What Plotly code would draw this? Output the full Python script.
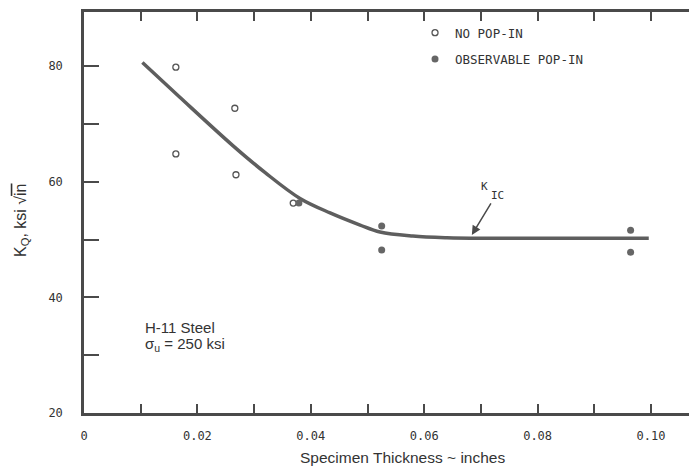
import plotly.graph_objects as go

# ---- data ----
no_popin_x = [0.0162, 0.0162, 0.0266, 0.0268, 0.0369]
no_popin_y = [79.8, 64.8, 72.7, 61.2, 56.3]

popin_x = [0.0379, 0.0525, 0.0525, 0.0964, 0.0964]
popin_y = [56.3, 52.35, 48.2, 51.6, 47.8]

curve_x = [0.0103, 0.0169, 0.0263, 0.0319, 0.0381, 0.0434, 0.0487, 0.0522, 0.0580, 0.0640, 0.0700, 0.0996]
curve_y = [80.6, 74.6, 66.2, 61.6, 57.1, 54.6, 52.5, 51.3, 50.6, 50.3, 50.2, 50.2]

x_tickvals = [0.00, 0.01, 0.02, 0.03, 0.04, 0.05, 0.06, 0.07, 0.08, 0.09, 0.10]
x_ticktext = ["0", "", "0.02", "", "0.04", "", "0.06", "", "0.08", "", "0.10"]
y_tickvals = [20, 30, 40, 50, 60, 70, 80]
y_ticktext = ["20", "", "40", "", "60", "", "80"]

kic_x = 0.0684
kic_y = 50.8

X_MAX = 0.10811
Y_MIN, Y_MAX = 20, 89.34

INK = "#4a4a4a"
MONO = "DejaVu Sans Mono"
SANS = "Liberation Sans"

fig = go.Figure()

fig.add_trace(go.Scatter(
    x=curve_x, y=curve_y, mode="lines",
    line=dict(color="#5e5e5e", width=3.5, shape="spline", smoothing=1.0),
    showlegend=False, hoverinfo="skip"))

fig.add_trace(go.Scatter(
    x=no_popin_x, y=no_popin_y, mode="markers", name="NO POP-IN",
    legendgroup="a",
    marker=dict(symbol="circle-open", size=6, color="#555555", line=dict(width=1.3, color="#555555"))))

fig.add_trace(go.Scatter(
    x=popin_x, y=popin_y, mode="markers", name="OBSERVABLE POP-IN",
    legendgroup="b", yaxis="y2",
    marker=dict(symbol="circle", size=7, color="#666666")))

axis_common = dict(showgrid=False, zeroline=False, linecolor=INK, tickcolor=INK)

fig.update_layout(
    width=689, height=462,
    margin=dict(l=76, r=0, t=4, b=57),
    paper_bgcolor="white", plot_bgcolor="white",
    xaxis=dict(range=[0, X_MAX], showline=True, linewidth=2.5, mirror="ticks",
               ticks="inside", ticklen=9, tickwidth=1.5,
               tickvals=x_tickvals, ticktext=x_ticktext,
               tickfont=dict(family=MONO, size=12, color="#333333"), ticklabelstandoff=10,
               **axis_common),
    yaxis=dict(range=[Y_MIN, Y_MAX], showline=True, linewidth=2.5, ticks="inside", ticklen=15, tickwidth=1.5,
               tickvals=y_tickvals, ticktext=y_ticktext,
               tickfont=dict(family=MONO, size=12, color="#333333"), ticklabelstandoff=16,
               **axis_common),
    yaxis2=dict(range=[Y_MIN, Y_MAX], overlaying="y", side="right", anchor="x", showline=False,
                ticks="inside", ticklen=5, tickwidth=1.5, tickvals=y_tickvals, showticklabels=False,
                **axis_common),
    legend=dict(x=0.5400, y=0.985, xanchor="left", yanchor="top", bgcolor="rgba(0,0,0,0)",
                font=dict(family=MONO, size=12.5, color="#333333"), tracegroupgap=7,
                traceorder="grouped"),
    showlegend=True,
)

annotations = [
    # y-axis title
    dict(text='K<sub>Q</sub>, ksi √<span style="text-decoration:overline">in</span>',
         xref="paper", yref="paper", x=-0.103, y=0.481, xanchor="center", yanchor="middle",
         showarrow=False, textangle=-90,
         font=dict(family=SANS, size=16, color="#333333")),
    # x-axis title
    dict(text="Specimen Thickness ~ inches", xref="paper", yref="paper", x=0.52, y=-0.112,
         xanchor="center", yanchor="middle",
         showarrow=False, font=dict(family=SANS, size=15.5, color="#333333")),
    # material note
    dict(text="H-11 Steel", xref="paper", yref="paper", x=0.0962, y=0.212, xanchor="left",
         yanchor="middle", showarrow=False, font=dict(family=SANS, size=15, color="#333333")),
    dict(text="σ<sub>u</sub> = 250 ksi", xref="paper", yref="paper", x=0.0962, y=0.1985, xanchor="left",
         yanchor="top", showarrow=False, font=dict(family=SANS, size=15, color="#333333")),
    # KIC label
    dict(text="K", x=kic_x, y=kic_y, xref="x", yref="y",
         showarrow=False, xshift=13, yshift=48, font=dict(family=MONO, size=11, color="#333333")),
    dict(text="IC", x=kic_x, y=kic_y, xref="x", yref="y", showarrow=False, xshift=26, yshift=39,
         font=dict(family=MONO, size=11, color="#333333")),
    dict(text="", x=kic_x, y=kic_y, xref="x", yref="y", showarrow=True, ax=20, ay=-33,
         arrowhead=2, arrowsize=1.2, arrowwidth=1.5, arrowcolor=INK),
]
fig.update_layout(annotations=annotations)

fig.write_html("out.html")
